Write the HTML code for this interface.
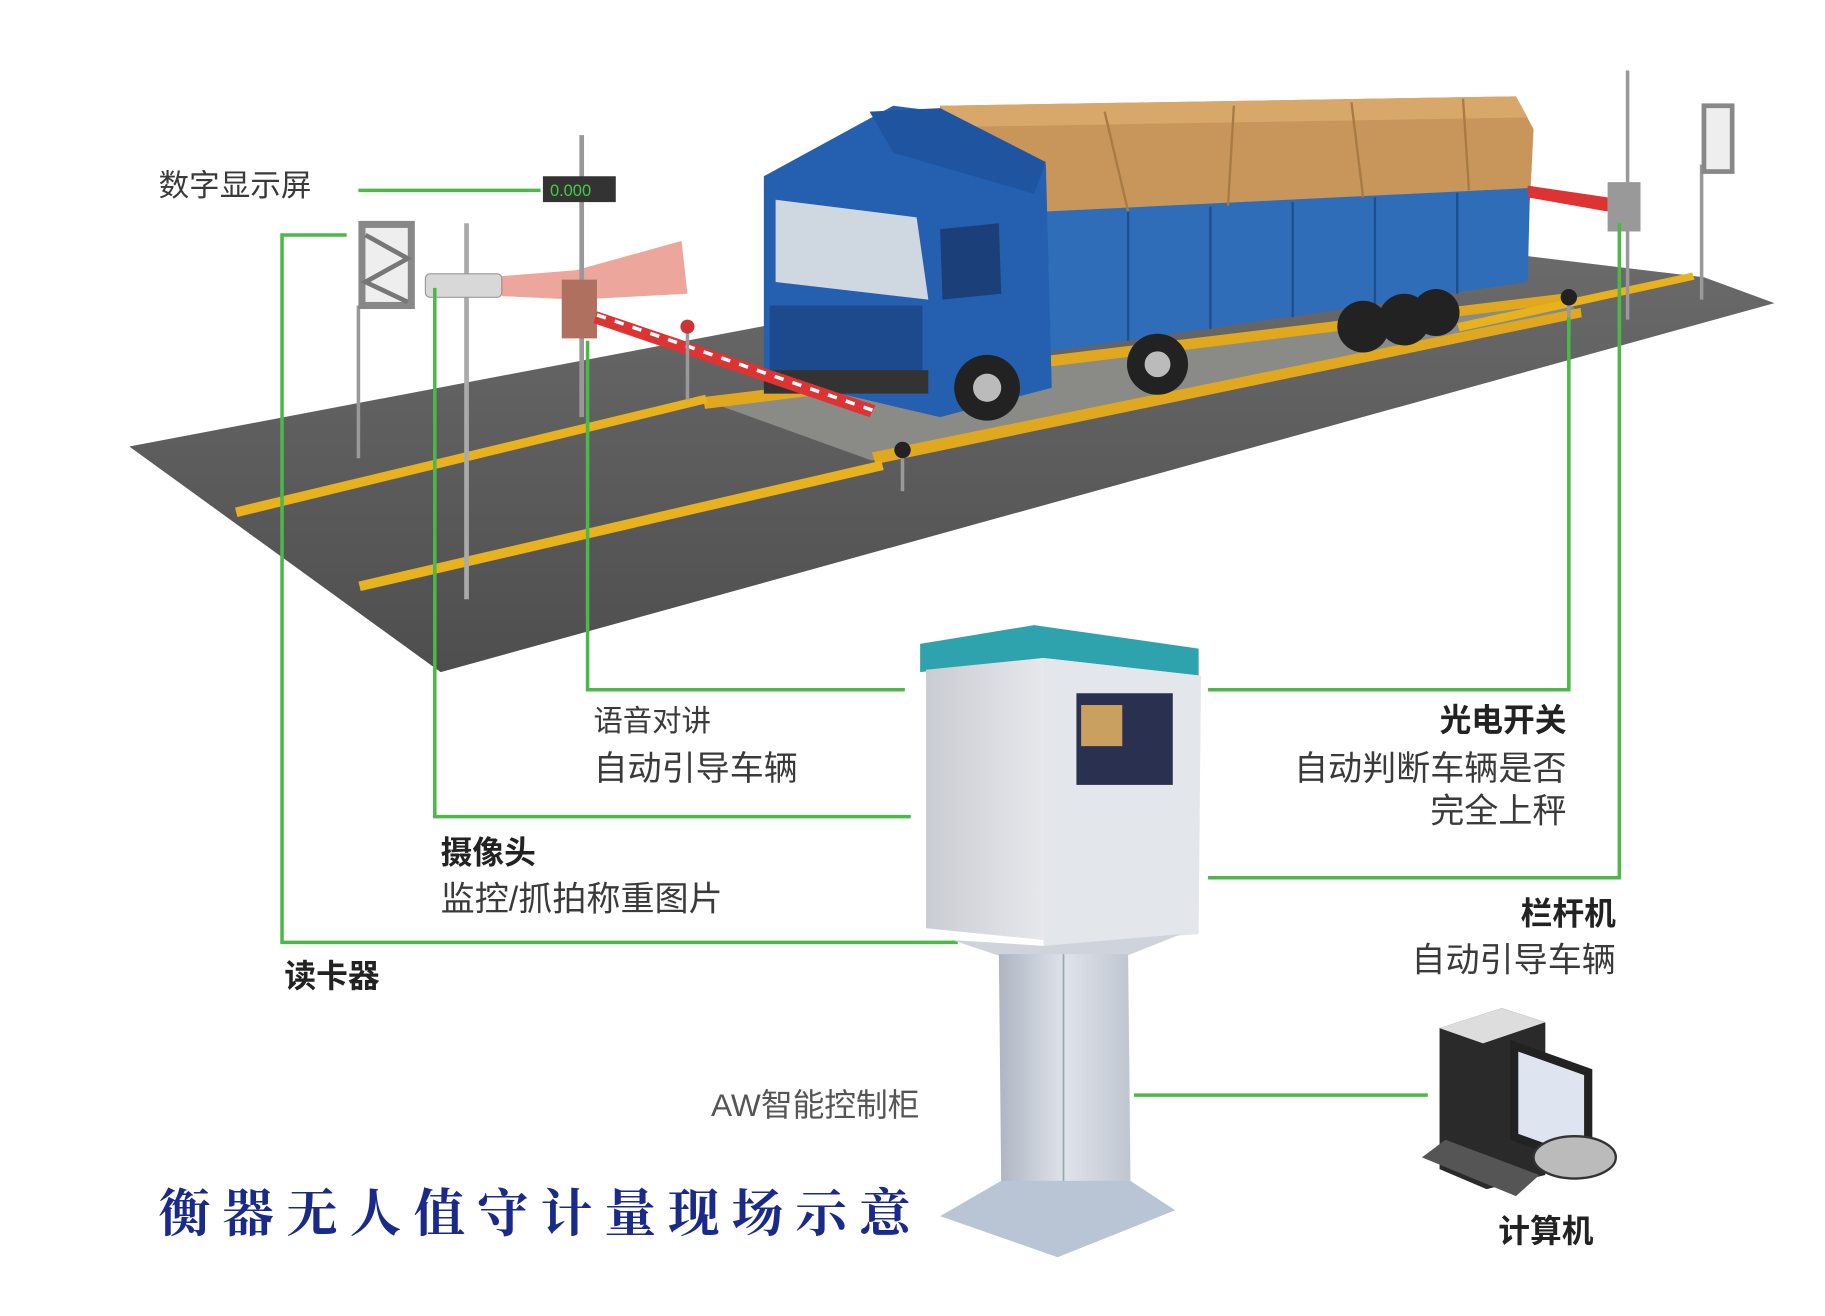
<!DOCTYPE html>
<html><head><meta charset="utf-8"><style>
html,body{margin:0;padding:0;background:#fff;}
svg{display:block;}
text{font-family:"Liberation Sans","Noto Sans CJK SC",sans-serif;fill:#3a3a3a;}
.b{font-weight:bold;fill:#222;}
</style></head><body>
<svg width="1825" height="1316" viewBox="0 0 1553 1120" preserveAspectRatio="none" xmlns="http://www.w3.org/2000/svg">
<defs>
<linearGradient id="road" x1="0" y1="0" x2="0" y2="1"><stop offset="0" stop-color="#6a6a6a"/><stop offset="1" stop-color="#4e4e4e"/></linearGradient>
<linearGradient id="cab" x1="0" y1="0" x2="1" y2="0"><stop offset="0" stop-color="#c9ccd2"/><stop offset="1" stop-color="#e6e8ec"/></linearGradient>
<linearGradient id="ped" x1="0" y1="0" x2="1" y2="0"><stop offset="0" stop-color="#aeb5c2"/><stop offset=".5" stop-color="#dfe3ea"/><stop offset="1" stop-color="#c0c6d0"/></linearGradient>
</defs>
<polygon points="110,380 700,268 1300,218 1450,236 1510,258 375,572" fill="url(#road)"/>
<polygon points="598,340 1330,252 1345,268 742,392" fill="#8a8a86"/>
<polygon points="598,338 1330,250 1332,258 600,348" fill="#e0a81f"/>
<polygon points="742,385 1345,262 1346,270 745,395" fill="#e0a81f"/>
<polygon points="200,432 600,336 602,343 202,440" fill="#e8b21e"/>
<polygon points="305,495 750,392 752,400 307,503" fill="#e8b21e"/>
<polygon points="1240,275 1440,232 1442,238 1242,282" fill="#e8b21e"/>
<polygon points="800,90 1290,82 1305,110 1302,170 890,190 800,170" fill="#c8965a"/>
<polygon points="800,90 1290,82 1300,100 815,108" fill="#d8a86a"/>
<polygon points="890,180 1302,160 1300,240 890,300" fill="#2f6db8"/>
<g stroke="#1d4f90" stroke-width="2"><line x1="960" y1="180" x2="960" y2="290"/><line x1="1030" y1="176" x2="1030" y2="280"/><line x1="1100" y1="172" x2="1100" y2="270"/><line x1="1170" y1="168" x2="1170" y2="260"/><line x1="1240" y1="164" x2="1240" y2="250"/></g>
<g stroke="#a87a44" stroke-width="2"><line x1="940" y1="95" x2="960" y2="180"/><line x1="1050" y1="90" x2="1045" y2="175"/><line x1="1150" y1="87" x2="1160" y2="168"/><line x1="1245" y1="84" x2="1250" y2="162"/></g>
<polygon points="650,150 760,90 800,95 890,140 895,330 800,355 650,320" fill="#2560b0"/>
<polygon points="740,95 800,92 890,138 880,165 760,130" fill="#1f55a0"/>
<polygon points="660,170 780,185 790,255 660,240" fill="#cfd8e0"/>
<polygon points="800,195 850,190 852,250 802,255" fill="#1b3f78"/>
<rect x="655" y="260" width="130" height="60" fill="#1d4a8c"/>
<rect x="650" y="315" width="140" height="20" fill="#333"/>
<circle cx="840" cy="330" r="28" fill="#222"/><circle cx="840" cy="330" r="12" fill="#bbb"/>
<circle cx="985" cy="310" r="26" fill="#222"/><circle cx="985" cy="310" r="11" fill="#bbb"/>
<circle cx="1160" cy="278" r="22" fill="#222"/><circle cx="1195" cy="272" r="22" fill="#222"/><circle cx="1222" cy="266" r="20" fill="#222"/>
<line x1="305" y1="260" x2="305" y2="390" stroke="#999" stroke-width="3"/>
<rect x="305" y="188" width="48" height="75" fill="#888"/><rect x="311" y="194" width="36" height="63" fill="#eee"/>
<polyline points="311,200 347,220 311,240 347,257" fill="none" stroke="#777" stroke-width="4"/>
<line x1="397" y1="190" x2="397" y2="510" stroke="#aaa" stroke-width="4"/>
<rect x="362" y="233" width="65" height="20" rx="4" fill="#d8d8d8" stroke="#999"/>
<polygon points="427,235 490,230 580,205 585,250 490,255 427,252" fill="#e06a5a" opacity=".6"/>
<line x1="495" y1="115" x2="495" y2="355" stroke="#999" stroke-width="4"/>
<rect x="462" y="150" width="62" height="22" fill="#333"/><text x="468" y="167" font-size="14" style="fill:#4c4">0.000</text>
<rect x="478" y="238" width="30" height="50" fill="#b07060"/>
<polygon points="508,265 745,345 740,355 505,275" fill="#d33"/>
<line x1="508" y1="268" x2="745" y2="350" stroke="#fff" stroke-width="3" stroke-dasharray="8 8"/>
<line x1="585" y1="280" x2="585" y2="340" stroke="#999" stroke-width="3"/><circle cx="585" cy="278" r="6" fill="#c33"/>
<line x1="768" y1="385" x2="768" y2="418" stroke="#999" stroke-width="3"/><circle cx="768" cy="383" r="7" fill="#222"/>
<line x1="1335" y1="255" x2="1335" y2="285" stroke="#999" stroke-width="3"/><circle cx="1335" cy="253" r="7" fill="#222"/>
<line x1="1385" y1="60" x2="1385" y2="272" stroke="#999" stroke-width="3"/>
<rect x="1368" y="155" width="28" height="42" fill="#999"/>
<polygon points="1300,158 1368,168 1368,180 1300,168" fill="#d33"/>
<line x1="1448" y1="140" x2="1448" y2="255" stroke="#999" stroke-width="3"/>
<rect x="1448" y="88" width="28" height="60" fill="#888"/><rect x="1452" y="92" width="20" height="52" fill="#eee"/>
<g stroke="#4cb848" stroke-width="3" fill="none">
<line x1="305" y1="162" x2="460" y2="162"/>
<polyline points="295,200 240,200 240,802 815,802"/>
<polyline points="370,245 370,695 775,695"/>
<polyline points="500,290 500,587 770,587"/>
<polyline points="1335,270 1335,587 1028,587"/>
<polyline points="1378,190 1378,747 1028,747"/>
<line x1="965" y1="932" x2="1215" y2="932"/>
</g>
<polygon points="783,548 880,532 1020,552 1020,575 888,560 783,572" fill="#2fa3ad"/>
<polygon points="788,570 888,560 888,800 788,790" fill="url(#cab)"/>
<polygon points="888,560 1022,575 1020,795 888,805" fill="#e3e6eb"/>
<rect x="916" y="590" width="82" height="78" fill="#2a3050"/>
<rect x="920" y="600" width="35" height="35" fill="#c9a060"/>
<polygon points="810,800 888,805 1005,795 955,815 855,815" fill="#cfd4dc"/>
<polygon points="850,812 960,812 962,1005 852,1010" fill="url(#ped)"/>
<line x1="905" y1="812" x2="905" y2="1010" stroke="#9aa" stroke-width="1.5"/>
<polygon points="852,1005 962,1005 1000,1030 900,1070 800,1035" fill="#b9c5d4"/>
<polygon points="1225,875 1278,858 1315,870 1315,1000 1265,1012 1225,995" fill="#2a2a2a"/>
<polygon points="1225,875 1278,858 1315,870 1262,888" fill="#ddd"/>
<polygon points="1285,885 1355,910 1355,995 1285,970" fill="#222"/>
<polygon points="1292,895 1348,915 1348,985 1292,965" fill="#dfe5f0"/>
<ellipse cx="1340" cy="985" rx="35" ry="18" fill="#bbb" stroke="#333" stroke-width="2"/>
<polygon points="1210,985 1230,970 1310,1000 1290,1018" fill="#555"/>
<text x="135" y="167" font-size="26">数字显示屏</text>
<text x="505" y="622" font-size="25">语音对讲</text>
<text x="505" y="664" font-size="29">自动引导车辆</text>
<text class="b" x="1333" y="622" font-size="27" text-anchor="end">光电开关</text>
<text x="1333" y="664" font-size="29" text-anchor="end">自动判断车辆是否</text>
<text x="1333" y="700" font-size="29" text-anchor="end">完全上秤</text>
<text class="b" x="375" y="735" font-size="27">摄像头</text>
<text x="375" y="775" font-size="29">监控/抓拍称重图片</text>
<text class="b" x="242" y="840" font-size="27">读卡器</text>
<text class="b" x="1375" y="787" font-size="27" text-anchor="end">栏杆机</text>
<text x="1375" y="827" font-size="29" text-anchor="end">自动引导车辆</text>
<text x="605" y="950" font-size="27" style="fill:#555">AW智能控制柜</text>
<text class="b" x="1275" y="1057" font-size="27">计算机</text>
<text x="135" y="1048" font-size="44" textLength="640" style="font-family:'Liberation Serif','Noto Serif CJK SC',serif;fill:#1a2a8a;font-weight:bold">衡器无人值守计量现场示意</text>
</svg>
</body></html>
